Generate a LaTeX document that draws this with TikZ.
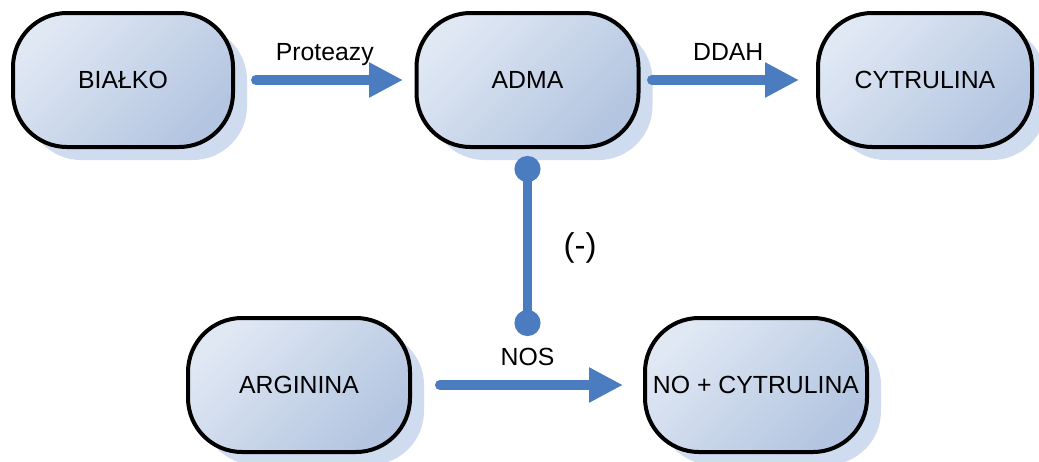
\documentclass[tikz,border=0pt]{standalone}
\usepackage{fontspec}
\setmainfont{Liberation Sans}
\usetikzlibrary{arrows.meta}
\usetikzlibrary{shadows}

\definecolor{boxlight}{HTML}{E0E8F4}
\definecolor{boxdark}{HTML}{B3C5E0}
\definecolor{shadowblue}{HTML}{CFDBEF}
\definecolor{arrowblue}{HTML}{4A7CBF}

\begin{document}
\begin{tikzpicture}[x=0.5pt, y=-0.5pt]
  \tikzstyle{stage}=[rectangle, rounded corners=27pt, line width=2pt, draw=black,
    top color=boxlight, bottom color=boxdark, shading angle=45,
    minimum height=67pt, font=\fontsize{12.4}{15}\selectfont,
    drop shadow={shadow xshift=7pt, shadow yshift=-6.5pt, fill=shadowblue, opacity=1}]
  \tikzstyle{connect}=[-{Triangle[length=17pt, width=16.5pt]}, line width=5pt,
    line cap=round, draw=arrowblue]
  \tikzstyle{inhibit}=[{Circle[length=13pt]}-{Circle[length=13pt]}, line width=4.5pt,
    draw=arrowblue]
  \tikzstyle{enzyme}=[above=2.6pt, inner sep=2pt, text depth=0.25em,
    font=\fontsize{12.4}{15}\selectfont]

  \useasboundingbox (0,0) rectangle (1039,461);

  \foreach \x/\y/\w/\name/\txt in
    { 123/80/220/bialko/BIAŁKO
    , 527.5/80/222/adma/ADMA
    , 925/80/214/cytr/CYTRULINA
    , 299/385/222/arg/ARGININA
    , 756/385/222/nocyt/NO + CYTRULINA
    }
    \node[stage, minimum width=\w*0.5pt] (\name) at (\x, \y) {\txt};

  \draw[connect, shorten <=10.5pt, shorten >=5.75pt] (bialko) -- node[enzyme] (prot) {Proteazy} (adma);
  \draw[connect, shorten <=5.75pt, shorten >=8.5pt] (adma) -- node[enzyme] (ddah) {DDAH} (cytr);
  \draw[connect, shorten <=14pt, shorten >=10pt] (arg) -- node[enzyme] (nos) {NOS} (nocyt);

  \coordinate (inhib) at (527.5, 336);
  \draw[inhibit, shorten <=3.5pt] (adma) -- (inhib);
  \node[font=\fontsize{16.5}{19}\selectfont] (minus) at (580, 248) {(-)};
\end{tikzpicture}
\end{document}
